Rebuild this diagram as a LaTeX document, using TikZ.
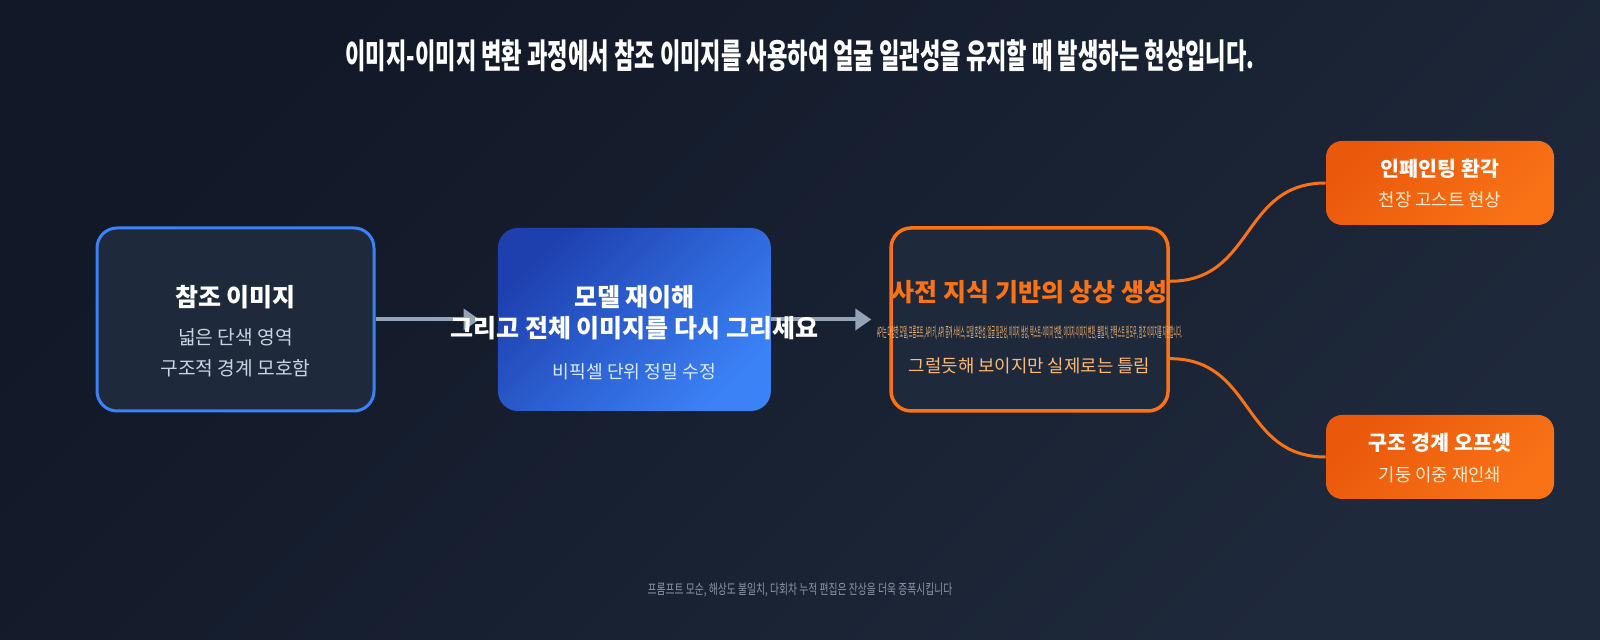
\documentclass[tikz,border=0pt]{standalone}
\usepackage{fontspec}
\setmainfont{Noto Sans CJK KR}
\usetikzlibrary{positioning,calc,arrows.meta}
\definecolor{bgA}{HTML}{111827}
\definecolor{bgB}{HTML}{1E293B}
\definecolor{card}{HTML}{1E293B}
\definecolor{blueA}{HTML}{1E40AF}
\definecolor{blueB}{HTML}{3B82F6}
\definecolor{orA}{HTML}{EA580C}
\definecolor{orB}{HTML}{F97316}
\definecolor{arrow}{HTML}{94A3B8}
\definecolor{grayT}{HTML}{CBD5E1}
\definecolor{blueT}{HTML}{DBEAFE}
\definecolor{orT}{HTML}{FDBA74}
\definecolor{tagT}{HTML}{FFEDD5}
\definecolor{footT}{HTML}{8B95A7}
\pgfdeclarelayer{bg}
\pgfdeclarelayer{edge}
\pgfsetlayers{bg,edge,main}

\begin{document}
\begin{tikzpicture}[x=0.5pt,y=-0.5pt,
box/.style={rounded corners=10pt,minimum width=138.5pt,minimum height=91.5pt,inner sep=0pt},
tag/.style={box,rounded corners=8pt,minimum width=114pt,minimum height=42pt,
  left color=orA,right color=orB,shading angle=45},
ttl/.style={font=\fontsize{12.5}{15}\selectfont\bfseries,text=white,inner sep=0pt},
sub/.style={font=\fontsize{9.3}{11}\selectfont,inner sep=0pt},
small/.style={font=\fontsize{10.3}{12}\selectfont\bfseries,text=white,inner sep=0pt},
arr/.style={draw=arrow,line width=2pt,-{Triangle[length=8pt,width=10.5pt]},shorten >=9pt},
link/.style={draw=orB,line width=1.5pt}]
\begin{pgfonlayer}{bg}
\shade[left color=bgA,right color=bgB,shading angle=45] (0,0) rectangle (1600,640);
\end{pgfonlayer}
\node (head) at (800,56) {\resizebox{454.5pt}{\height}{\fontsize{17}{20}\selectfont\bfseries\color{white}%
이미지-이미지 변환 과정에서 참조 이미지를 사용하여 얼굴 일관성을 유지할 때 발생하는 현상입니다.}};
% main chain
\node[box,fill=card,draw=blueB,line width=1.5pt] (ref) at (235.5,319.5) {};
\node[box,minimum width=136.5pt,left color=blueA,right color=blueB,shading angle=45,
  right=61pt of ref] (redraw) {};
\node[box,fill=card,draw=orB,line width=1.75pt,right=59pt of redraw] (core) {};
\node[tag] (hall) at (1440,183) {};
\node[tag] (shift) at (1440,457) {};
% texts
\node[ttl] (refT) at ($(ref)+(0,-22.5)$) {참조 이미지};
\node[sub,text=grayT,font=\fontsize{9.6}{11}\selectfont] (refA) at ($(ref)+(0,17.5)$) {넓은 단색 영역};
\node[sub,text=grayT,font=\fontsize{9.6}{11}\selectfont] (refB) at ($(ref)+(0,48.5)$) {구조적 경계 모호함};
\node[ttl] (redrawT) at ($(redraw)+(0,-22.5)$) {모델 재이해};
\node[ttl] (redrawA) at ($(redraw)+(0,8.5)$) {그리고 전체 이미지를 다시 그리세요};
\node[sub,text=blueT,font=\fontsize{9.1}{11}\selectfont] (redrawB) at ($(redraw)+(0,52.5)$) {비픽셀 단위 정밀 수정};
\node[ttl,text=orB] (coreT) at ($(core)+(0,-27.5)$) {사전 지식 기반의 상상 생성};
\node[inner sep=0pt,text=orT] (coreA) at ($(core)+(0,13.5)$)
{\resizebox{152.5pt}{\height}{\fontsize{7}{8}\selectfont API는 다양한 모델, 프롬프트, API 키, API 중개 서비스, 모델 호환성, 얼굴 일관성, 이미지 생성, 텍스트-이미지 변환, 이미지-이미지 변환, 불일치, 컨텍스트 윈도우, 참조 이미지를 지원합니다.}};
\node[sub,text=orT,font=\fontsize{8.9}{11}\selectfont] (coreB) at ($(core)+(0,46.5)$) {그럴듯해 보이지만 실제로는 틀림};
\node[small] (hallT) at ($(hall)+(0,-14)$) {인페인팅 환각};
\node[sub,text=tagT,font=\fontsize{8.9}{11}\selectfont] (hallA) at ($(hall)+(0,17)$) {천장 고스트 현상};
\node[small] (shiftT) at ($(shift)+(0,-14)$) {구조 경계 오프셋};
\node[sub,text=tagT,font=\fontsize{8.9}{11}\selectfont] (shiftA) at ($(shift)+(0,18)$) {기둥 이중 재인쇄};
\node[text=footT] (note) at (800,590) {\resizebox{152.5pt}{\height}{\fontsize{7}{8}\selectfont
프롬프트 모순, 해상도 불일치, 다회차 누적 편집은 잔상을 더욱 증폭시킵니다}};
\begin{pgfonlayer}{edge}
\draw[arr] (ref.east) -- (redraw.west);
\draw[arr] (redraw.east) -- (core.west);
\draw[link] ($(core.east)!0.41!(core.north east)$) .. controls +(85,0) and +(-85,0) .. (hall.west);
\draw[link] ($(core.east)!0.42!(core.south east)$) .. controls +(85,0) and +(-85,0) .. (shift.west);
\end{pgfonlayer}
\end{tikzpicture}
\end{document}
